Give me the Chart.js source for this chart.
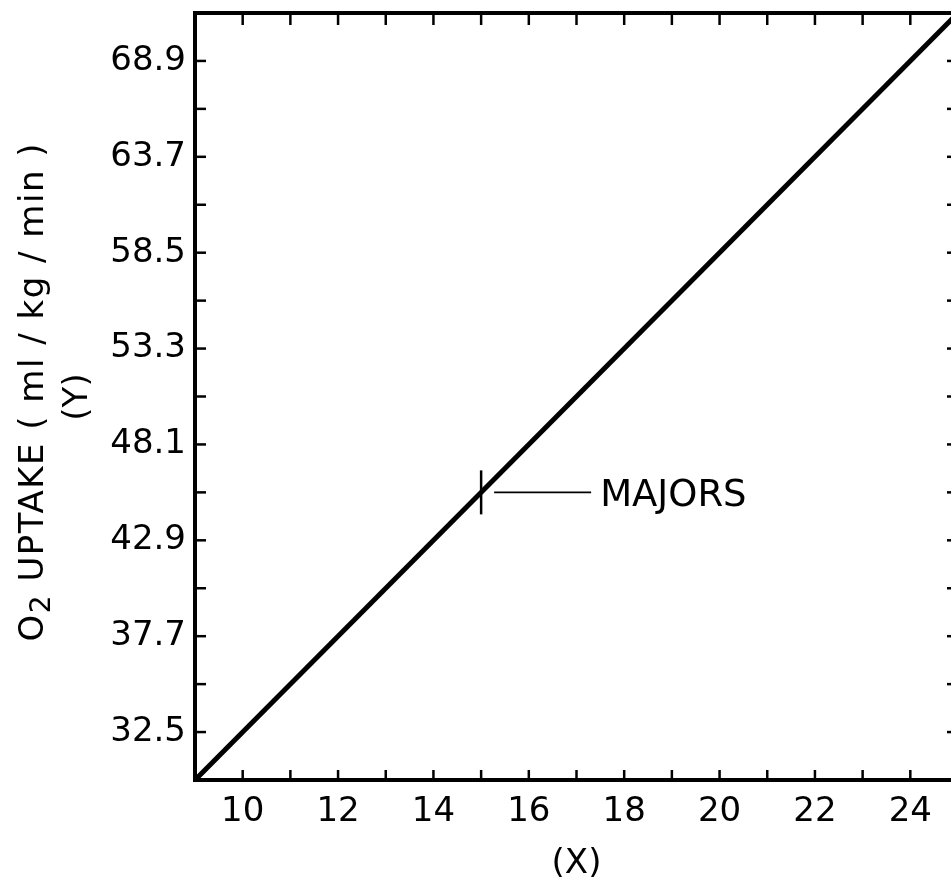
<!DOCTYPE html>
<html>
<head>
<meta charset="utf-8">
<script src="https://cdn.jsdelivr.net/npm/chart.js@4"></script>
<style>
  html, body { margin: 0; padding: 0; background: #fff; overflow: hidden; }
</style>
</head>
<body>
<canvas id="myChart" width="960" height="885"></canvas>
<script>
// Datos
const xValues = [9, 25];
const yValues = [29.9, 71.5];
const xLabels = ['10', '12', '14', '16', '18', '20', '22', '24'];
const yLabels = ['32.5', '37.7', '42.9', '48.1', '53.3', '58.5', '63.7', '68.9'];
const markerX = 15;
const markerY = 45.5;
const markerText = 'MAJORS';
const yTitleParts = ['O', '2', ' UPTAKE ( ml / kg / min )'];
const yTitleSub = '(Y)';
const xTitle = '(X)';

const FONT = '"DejaVu Sans", sans-serif';

function seg(ctx, x1, y1, x2, y2) {
    ctx.beginPath();
    ctx.moveTo(x1, y1);
    ctx.lineTo(x2, y2);
    ctx.stroke();
}

// marco, marcas interiores y anotaciones
const framePlugin = {
    id: 'frame',
    afterDraw(chart) {
        const ctx = chart.ctx;
        const a = chart.chartArea;
        const x = chart.scales.x;
        const y = chart.scales.y;
        ctx.save();
        ctx.strokeStyle = '#000';
        ctx.fillStyle = '#000';
        ctx.lineWidth = 2.5;
        x.ticks.forEach(t => {
            const px = x.getPixelForValue(t.value);
            seg(ctx, px, a.bottom, px, a.bottom - 10);
            seg(ctx, px, a.top, px, a.top + 12);
        });
        y.ticks.forEach(t => {
            const py = y.getPixelForValue(t.value);
            seg(ctx, a.left, py, a.left + 11, py);
            seg(ctx, a.right, py, a.right - 11, py);
        });
        ctx.lineWidth = 4;
        ctx.strokeRect(a.left, a.top, a.right - a.left, a.bottom - a.top);

        // MAJORS
        const mx = x.getPixelForValue(markerX);
        const my = y.getPixelForValue(markerY);
        ctx.lineWidth = 2.5;
        seg(ctx, mx, my - 22, mx, my + 22);
        ctx.lineWidth = 1.8;
        seg(ctx, mx + 13, my, mx + 110, my);
        ctx.font = '37px ' + FONT;
        ctx.textAlign = 'left';
        ctx.textBaseline = 'alphabetic';
        ctx.fillText(markerText, mx + 119, my + 14);

        // titulo eje Y
        const mainFont = '34px ' + FONT;
        const subFont = '28px ' + FONT;
        ctx.letterSpacing = '1.5px';
        ctx.font = mainFont;
        const w0 = ctx.measureText(yTitleParts[0]).width;
        const w2 = ctx.measureText(yTitleParts[2]).width;
        ctx.font = subFont;
        const w1 = ctx.measureText(yTitleParts[1]).width;
        const total = w0 + w1 + w2;
        ctx.save();
        ctx.translate(43, 142 + total);
        ctx.rotate(-Math.PI / 2);
        ctx.font = mainFont;
        ctx.fillText(yTitleParts[0], 0, 0);
        ctx.font = subFont;
        ctx.fillText(yTitleParts[1], w0, 7);
        ctx.font = mainFont;
        ctx.fillText(yTitleParts[2], w0 + w1, 0);
        ctx.restore();

        ctx.letterSpacing = '0px';
        ctx.save();
        ctx.translate(87, 397);
        ctx.rotate(-Math.PI / 2);
        ctx.font = mainFont;
        ctx.textAlign = 'center';
        ctx.fillText(yTitleSub, 0, 0);
        ctx.restore();

        ctx.restore();
    }
};

const ctx = document.getElementById('myChart').getContext('2d');

const myChart = new Chart(ctx, {
    type: 'line',
    data: {
        datasets: [{
            data: xValues.map((v, i) => ({ x: v, y: yValues[i] })),
            borderColor: '#000',
            borderWidth: 5,
            pointRadius: 0,
            tension: 0,
            fill: false
        }]
    },
    options: {
        responsive: false,
        animation: false,
        layout: { padding: { top: 13, right: 2, left: 0, bottom: 0 } },
        plugins: {
            legend: { display: false },
            tooltip: { enabled: false }
        },
        scales: {
            x: {
                type: 'linear',
                min: 9,
                max: 25,
                grid: { display: false, drawTicks: false },
                border: { display: false },
                ticks: {
                    stepSize: 1,
                    autoSkip: false,
                    maxRotation: 0,
                    padding: 12,
                    color: '#000',
                    font: { family: FONT, size: 34 },
                    callback: v => xLabels.includes(String(v)) ? String(v) : ''
                },
                title: {
                    display: true,
                    text: xTitle,
                    color: '#000',
                    font: { family: FONT, size: 34 },
                    padding: { top: 0, bottom: 0 }
                },
                afterFit: s => {
                    s.height = 105;
                    s.paddingLeft = 0;
                    s.paddingRight = 0;
                }
            },
            y: {
                type: 'linear',
                min: 29.9,
                max: 71.5,
                grid: { display: false, drawTicks: false },
                border: { display: false },
                ticks: {
                    stepSize: 2.6,
                    autoSkip: false,
                    padding: 9,
                    color: '#000',
                    font: { family: FONT, size: 34 },
                    callback: v => {
                        const s = Number(v).toFixed(1);
                        return yLabels.includes(s) ? s : '';
                    }
                },
                afterFit: s => {
                    s.width = 195;
                    s.paddingTop = 0;
                    s.paddingBottom = 0;
                }
            }
        }
    },
    plugins: [framePlugin]
});
</script>
</body>
</html>
